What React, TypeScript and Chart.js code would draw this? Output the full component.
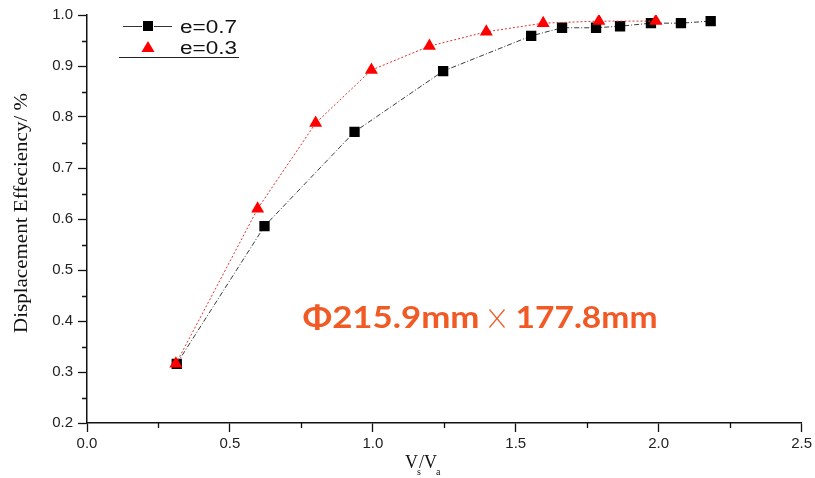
import React, { useEffect, useRef } from "react";
import { Chart, registerables } from "chart.js";
Chart.register(...registerables);

// ---- data ----
const xE07 = [0.314, 0.621, 0.936, 1.246, 1.554, 1.662, 1.781, 1.865, 1.973, 2.078, 2.182];
const yE07 = [0.316, 0.586, 0.771, 0.890, 0.959, 0.975, 0.975, 0.978, 0.984, 0.984, 0.988];
const xE03 = [0.311, 0.597, 0.800, 0.995, 1.198, 1.397, 1.596, 1.791, 1.990];
const yE03 = [0.316, 0.620, 0.788, 0.892, 0.939, 0.967, 0.984, 0.988, 0.988];
const seriesLabels = ["e=0.7", "e=0.3"];
const xMinorTicks = [0.25, 0.75, 1.25, 1.75, 2.25];
const yMinorTicks = [0.25, 0.35, 0.45, 0.55, 0.65, 0.75, 0.85, 0.95];
const yTitle = "Displacement Effeciency/ %";
const xTitleParts = ["V", "s", "/", "V", "a"];
const annotationParts = ["Φ215.9mm", "×", "177.8mm"];
const annotationPos = { x: 0.754, y: 0.386 };

const SERIF = "'Liberation Serif', 'Times New Roman', serif";
const SANS = "'Liberation Sans', Arial, sans-serif";

function fitText(ctx: CanvasRenderingContext2D, text: string, x: number, y: number, width: number, font: string, color: string) {
  ctx.save();
  ctx.font = font;
  ctx.fillStyle = color;
  ctx.textBaseline = "alphabetic";
  ctx.textAlign = "left";
  const w = ctx.measureText(text).width;
  ctx.translate(x, y);
  ctx.scale(width / w, 1);
  ctx.fillText(text, 0, 0);
  ctx.restore();
}

export default function App() {
  const ref = useRef<HTMLCanvasElement>(null);
  useEffect(() => {
    document.body.style.margin = "0";
    const canvas = ref.current;
    if (!canvas) return;

    const isMajor = (v: number, step: number) => Math.abs(v / step - Math.round(v / step)) < 1e-6;

    const decor = {
      id: "decor",
      afterDraw(chart: any) {
        const ctx: CanvasRenderingContext2D = chart.ctx;
        const xs = chart.scales.x;
        const ys = chart.scales.y;
        const area = chart.chartArea;
        ctx.save();
        // minor ticks
        ctx.strokeStyle = "#111";
        ctx.lineWidth = 1.3;
        ctx.beginPath();
        for (const v of xMinorTicks) {
          const px = Math.round(xs.getPixelForValue(v)) + 0.5;
          ctx.moveTo(px, area.bottom);
          ctx.lineTo(px, area.bottom + 5);
        }
        for (const v of yMinorTicks) {
          const py = Math.round(ys.getPixelForValue(v)) + 0.5;
          ctx.moveTo(area.left, py);
          ctx.lineTo(area.left - 5, py);
        }
        ctx.stroke();

        // y title (rotated)
        ctx.save();
        ctx.translate(27, 333);
        ctx.rotate(-Math.PI / 2);
        fitText(ctx, yTitle, 0, 0, 240, `19px ${SERIF}`, "#111");
        ctx.restore();

        // x title with subscripts
        ctx.fillStyle = "#111";
        ctx.textBaseline = "alphabetic";
        ctx.textAlign = "left";
        ctx.font = `18px ${SERIF}`;
        let cx = 405;
        ctx.fillText(xTitleParts[0], cx, 468);
        cx += ctx.measureText(xTitleParts[0]).width - 1;
        ctx.font = `10px ${SERIF}`;
        ctx.fillText(xTitleParts[1], cx, 475);
        cx += ctx.measureText(xTitleParts[1]).width - 2;
        ctx.font = `18px ${SERIF}`;
        ctx.fillText(xTitleParts[2], cx, 468);
        cx += ctx.measureText(xTitleParts[2]).width;
        ctx.fillText(xTitleParts[3], cx, 468);
        cx += ctx.measureText(xTitleParts[3]).width - 1;
        ctx.font = `10px ${SERIF}`;
        ctx.fillText(xTitleParts[4], cx, 475);

        // legend (dataset 1 = e=0.7 squares, dataset 0 = e=0.3 triangles)
        const dsSq = chart.data.datasets[1];
        const dsTri = chart.data.datasets[0];
        ctx.strokeStyle = "#333";
        ctx.lineWidth = 1;
        ctx.beginPath();
        ctx.moveTo(123, 26.5); ctx.lineTo(142, 26.5);
        ctx.moveTo(154, 26.5); ctx.lineTo(172, 26.5);
        ctx.stroke();
        ctx.fillStyle = dsSq.pointBackgroundColor;
        ctx.fillRect(143, 21, 10, 10);
        ctx.fillStyle = dsTri.pointBackgroundColor;
        ctx.beginPath();
        ctx.moveTo(148, 41); ctx.lineTo(154.5, 52); ctx.lineTo(141.5, 52);
        ctx.closePath();
        ctx.fill();
        fitText(ctx, dsSq.label, 180, 33, 57, `18px ${SANS}`, "#111");
        fitText(ctx, dsTri.label, 180, 54, 57, `18px ${SANS}`, "#111");
        ctx.strokeStyle = "#222";
        ctx.beginPath();
        ctx.moveTo(119, 57.5); ctx.lineTo(239, 57.5);
        ctx.stroke();

        // annotation
        const ax = xs.getPixelForValue(annotationPos.x);
        const ay = ys.getPixelForValue(annotationPos.y);
        const orange = "#F15A24";
        fitText(ctx, annotationParts[0], ax, ay, 177, `bold 31px Lato, 'Open Sans', sans-serif`, orange);
        fitText(ctx, annotationParts[1], ax + 182, ay + 1, 25, `300 30px 'Noto Sans CJK SC', sans-serif`, orange);
        fitText(ctx, annotationParts[2], ax + 213, ay, 142, `bold 31px Lato, 'Open Sans', sans-serif`, orange);
        ctx.restore();
      },
    };

    const chart = new Chart(canvas, {
      type: "scatter",
      data: {
        datasets: [
          {
            label: seriesLabels[1],
            data: xE03.map((x, i) => ({ x, y: yE03[i] })),
            showLine: true,
            borderColor: "#e23030",
            borderWidth: 1,
            borderDash: [2, 2],
            pointStyle: "triangle",
            pointRadius: 7.5,
            pointBackgroundColor: "#ff0000",
            pointBorderWidth: 0,
            order: 0,
          } as any,
          {
            label: seriesLabels[0],
            data: xE07.map((x, i) => ({ x, y: yE07[i] })),
            showLine: true,
            borderColor: "#3a3a3a",
            borderWidth: 1,
            borderDash: [5, 2, 1, 2],
            pointStyle: "rect",
            pointRadius: 7.3,
            pointBackgroundColor: "#000000",
            pointBorderWidth: 0,
            order: 1,
          } as any,
        ],
      },
      options: {
        animation: false,
        responsive: true,
        maintainAspectRatio: false,
        layout: { padding: { left: 0, right: 12, top: 15, bottom: 0 } },
        plugins: { legend: { display: false }, tooltip: { enabled: false } },
        scales: {
          x: {
            type: "linear",
            min: 0,
            max: 2.5,
            afterFit: (s: any) => { s.height = 55; },
            border: { color: "#111", width: 1.5 },
            grid: {
              drawOnChartArea: false,
              drawTicks: true,
              tickLength: 9,
              tickWidth: 1.3,
              tickColor: "#111",
            },
            ticks: {
              stepSize: 0.5,
              padding: 3,
              color: "#222",
              font: { family: SANS, size: 15 },
              callback: (v: any) => Number(v).toFixed(1),
              maxRotation: 0,
            },
          },
          y: {
            type: "linear",
            min: 0.2,
            max: 1.0,
            afterFit: (s: any) => { s.width = 87; },
            border: { color: "#111", width: 1.5 },
            grid: {
              drawOnChartArea: false,
              drawTicks: true,
              tickLength: 9,
              tickWidth: 1.3,
              tickColor: "#111",
            },
            ticks: {
              stepSize: 0.1,
              padding: 5,
              color: "#222",
              font: { family: SANS, size: 15 },
              callback: (v: any) => (isMajor(Number(v), 0.1) ? Number(v).toFixed(1) : ""),
            },
          },
        },
      },
      plugins: [decor],
    } as any);
    return () => chart.destroy();
  }, []);
  return (
    <div style={{ position: "relative", width: 815, height: 478 }}>
      <canvas ref={ref} />
    </div>
  );
}
